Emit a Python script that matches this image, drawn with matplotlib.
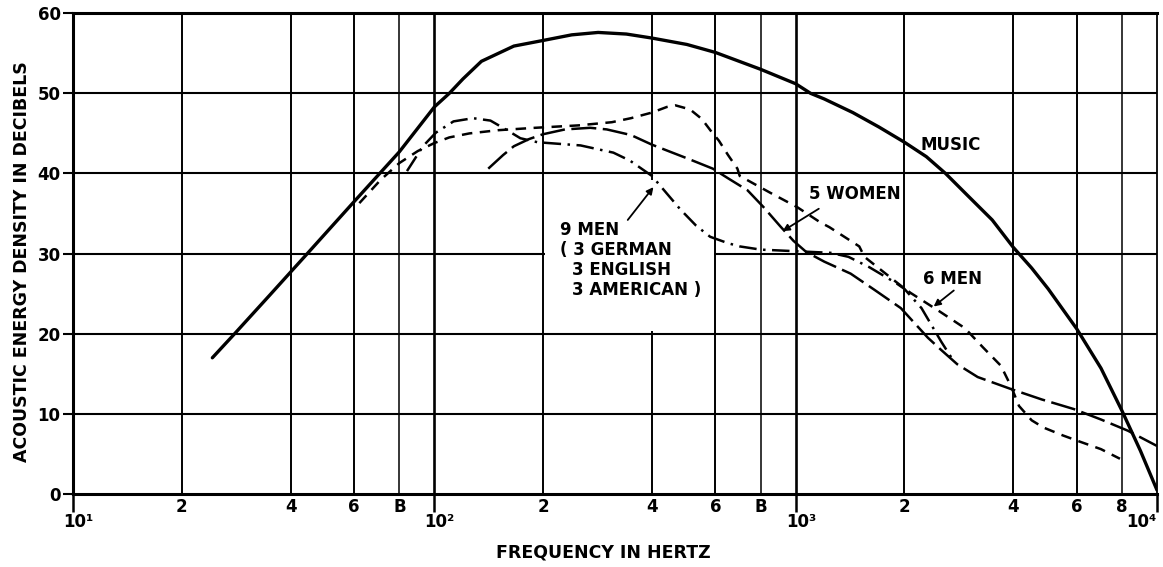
import matplotlib
matplotlib.use("Agg")
import matplotlib.pyplot as plt
from matplotlib.patches import Rectangle

# Werte (Frequenz in Hz, Pegel in dB)
music_f = [24.3, 28, 35, 44.5, 60, 80, 100, 110, 120, 135, 166, 200, 240, 284, 340, 400,
           500, 600, 800, 1000, 1100, 1200, 1440, 1700, 2000, 2300, 2600, 3000, 3500, 4000,
           4500, 5000, 6000, 7000, 8000, 9000, 10000]
music_db = [17, 20, 24.8, 30, 36.5, 42.7, 48.3, 50, 51.8, 54.0, 55.9, 56.6, 57.3, 57.6, 57.4, 56.9,
            56.1, 55.1, 53.0, 51.2, 50.0, 49.3, 47.6, 45.8, 43.9, 42.1, 40.0, 37.2, 34.2, 30.8,
            28.2, 25.6, 20.6, 15.7, 10.4, 5.4, 0.5]

women_f = [141, 155, 166, 183, 200, 230, 270, 300, 350, 400, 450, 500, 590, 650, 736, 815,
           907, 986, 1070, 1200, 1420, 1650, 1955, 2323, 2525, 2800, 3190, 3945, 4800, 5890,
           7000, 8310, 10000]
women_db = [40.6, 42.3, 43.4, 44.3, 44.9, 45.5, 45.7, 45.5, 44.8, 43.6, 42.7, 41.9, 40.6, 39.4, 37.9, 35.8,
            33.4, 31.6, 30.2, 29.0, 27.5, 25.5, 23.2, 19.5, 18.0, 16.2, 14.6, 13.1, 11.8, 10.6,
            9.3, 7.9, 6.0]

men6_f = [62, 71, 80, 90, 100, 110, 125, 150, 190, 250, 310, 350, 400, 440, 465, 510, 550,
          585, 613, 650, 690, 700, 850, 1010, 1170, 1240, 1500, 1550, 1955, 2080, 2500,
          2940, 3300, 3700, 3950, 4150, 4500, 4850, 5500, 6150, 7000, 7900]
men6_db = [36.3, 39.2, 41.3, 42.8, 43.8, 44.5, 45.0, 45.4, 45.7, 46.0, 46.4, 46.9, 47.6, 48.3, 48.5, 48.0, 46.8,
           45.2, 44.1, 42.3, 40.6, 39.7, 37.6, 35.8, 33.9, 33.3, 30.9, 29.6, 26.0, 25.1, 22.8,
           20.7, 18.3, 16.0, 13.4, 11.0, 9.2, 8.3, 7.3, 6.5, 5.6, 4.4]

men9_f = [84, 93, 101, 113, 128, 143, 159, 173, 193, 254, 313, 348, 400, 440, 480, 530,
          580, 650, 700, 800, 1000, 1250, 1400, 1600, 1900, 2000, 2230, 2530, 2700]
men9_db = [40.3, 43.4, 45.1, 46.5, 46.9, 46.6, 45.4, 44.4, 43.9, 43.5, 42.6, 41.6, 39.7, 37.5, 35.5, 33.5,
           32.1, 31.3, 30.9, 30.5, 30.3, 30.1, 29.6, 28.3, 26.3, 25.6, 23.2, 19.0, 17.0]

y_ticks = [0, 10, 20, 30, 40, 50, 60]
decades = [10, 100, 1000, 10000]
decade_labels = ["10¹", "10²", "10³", "10⁴"]
minor_mult = [2, 4, 6, 8]
minor_labels = [["2", "4", "6", "B"], ["2", "4", "6", "B"], ["2", "4", "6", "8"]]

plt.rcParams['font.family'] = ['DejaVu Sans']
plt.rcParams['font.weight'] = 'bold'

fig = plt.figure(figsize=(11.63, 5.67), dpi=100)
ax = fig.add_axes([0.0628, 0.1287, 0.932, 0.848])
ax.set_xscale('log')
ax.set_xlim(10, 10000)
ax.set_ylim(0, 60)

# Gitter von Hand (nur 2, 4, 6, 8 je Dekade)
for y in y_ticks[1:-1]:
    ax.axhline(y, color='black', lw=1.5, zorder=1)
for d in decades[:-1]:
    ax.axvline(d, color='black', lw=1.9, zorder=1)
    for m in minor_mult:
        ax.axvline(d * m, color='black', lw=1.1 if m == 8 else 1.4, zorder=1)

# weisse Flaeche hinter der Beschriftung "9 MEN"
ax.add_patch(Rectangle((203, 20.4), 595 - 203, 39.2 - 20.4, facecolor='white',
                       edgecolor='none', zorder=2))

# Kurven
ax.plot(music_f, music_db, color='black', lw=2.4, zorder=4, solid_capstyle='round')
ax.plot(women_f, women_db, color='black', lw=1.8, linestyle=(0, (10, 2.6)), zorder=4)
ax.plot(men6_f, men6_db, color='black', lw=1.8, linestyle=(0, (4.2, 3.0)), zorder=4)
ax.plot(men9_f, men9_db, color='black', lw=1.8, linestyle=(0, (7, 2.6, 1, 2.6)), zorder=4)

# Achsen und Ticks
for side in ['left', 'bottom', 'top']:
    ax.spines[side].set_linewidth(2.2)
ax.spines['right'].set_linewidth(1.3)
ax.set_yticks(y_ticks)
ax.set_yticklabels([str(v) for v in y_ticks], fontsize=12, fontweight='bold')
ax.tick_params(axis='y', length=7, width=1.5, pad=2)
ax.set_xticks(decades)
ax.set_xticklabels([])
ax.xaxis.set_minor_locator(plt.NullLocator())
ax.tick_params(axis='x', which='major', length=13, width=1.8, direction='out')

trans = ax.get_xaxis_transform()
for d, labs in zip(decades[:-1], minor_labels):
    for m, lab in zip(minor_mult, labs):
        ax.text(d * m, -0.027, lab, transform=trans, ha='center', va='center',
                fontsize=12, fontweight='bold')
for d, lab in zip(decades, decade_labels):
    if d == 10000:
        ax.text(d, -0.058, lab, transform=trans, ha='right', va='center',
                fontsize=12, fontweight='bold')
    else:
        ax.text(d * 1.035, -0.058, lab, transform=trans, ha='center', va='center',
                fontsize=12, fontweight='bold')

# Beschriftungen der Kurven
ax.text(2220, 43.6, 'MUSIC', fontsize=12, fontweight='bold', va='center', zorder=5)
ax.text(1088, 37.5, '5 WOMEN', fontsize=12, fontweight='bold', va='center', zorder=5)
ax.text(2247, 26.8, '6 MEN', fontsize=12, fontweight='bold', va='center', zorder=5)
ax.text(223, 33.0, '9 MEN', fontsize=12, fontweight='bold', va='center', zorder=5)
ax.text(223, 30.4, '( 3 GERMAN', fontsize=12, fontweight='bold', va='center', zorder=5)
ax.text(241, 28.0, '3 ENGLISH', fontsize=12, fontweight='bold', va='center', zorder=5)
ax.text(241, 25.5, '3 AMERICAN )', fontsize=12, fontweight='bold', va='center', zorder=5)

arrow = dict(arrowstyle='-|>', color='black', lw=1.3, mutation_scale=10, shrinkA=0, shrinkB=0)
ax.annotate('', xy=(404, 38.3), xytext=(343, 34.2), arrowprops=arrow, zorder=5)
ax.annotate('', xy=(920, 32.8), xytext=(1159, 35.6), arrowprops=arrow, zorder=5)
ax.annotate('', xy=(2410, 23.4), xytext=(2740, 25.4), arrowprops=arrow, zorder=5)

fig.text(0.019, 0.538, 'ACOUSTIC ENERGY DENSITY IN DECIBELS', rotation=90, fontsize=12.5,
         fontweight='bold', ha='center', va='center')
fig.text(0.5185, 0.025, 'FREQUENCY IN HERTZ', fontsize=12.5, fontweight='bold',
         ha='center', va='center')

fig.savefig('out.png', dpi=100, facecolor='white')
